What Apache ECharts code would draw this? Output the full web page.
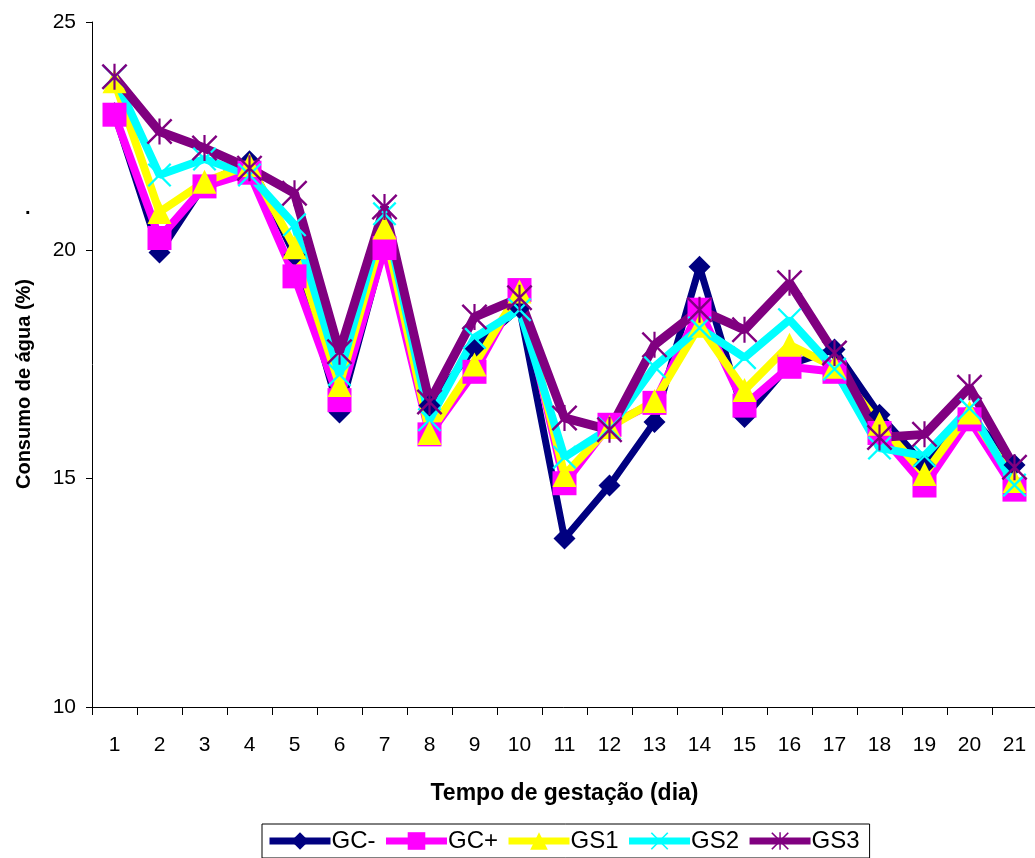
<!DOCTYPE html>
<html>
<head>
<meta charset="utf-8">
<script src="https://cdn.jsdelivr.net/npm/echarts@6/dist/echarts.min.js"></script>
<style>
html,body{margin:0;padding:0;background:#fff;}
#chart{width:1035px;height:858px;}
</style>
</head>
<body>
<div id="chart"></div>
<script>
var days = ['1','2','3','4','5','6','7','8','9','10','11','12','13','14','15','16','17','18','19','20','21'];
var seriesNames = ['GC-','GC+','GS1','GS2','GS3'];
var gcMinus = [23.0, 19.95, 21.45, 21.95, 19.9, 16.45, 20.1, 16.6, 17.87, 18.74, 13.69, 14.85, 16.24, 19.64, 16.35, 17.5, 17.83, 16.4, 15.3, 16.4, 15.3];
var gcPlus  = [22.97, 20.27, 21.4, 21.7, 19.43, 16.72, 20.05, 15.97, 17.34, 19.13, 14.9, 16.18, 16.66, 18.7, 16.6, 17.45, 17.34, 16.0, 14.85, 16.3, 14.76];
var gs1     = [23.7, 20.84, 21.5, 21.87, 20.07, 17.05, 20.5, 16.0, 17.5, 19.1, 15.08, 16.13, 16.7, 18.35, 16.94, 17.93, 17.45, 16.2, 15.1, 16.45, 14.95];
var gs2     = [23.8, 21.65, 22.0, 21.65, 20.56, 17.28, 20.8, 16.29, 18.09, 18.7, 15.47, 16.1, 17.45, 18.3, 17.65, 18.48, 17.4, 15.67, 15.5, 16.54, 14.86];
var gs3     = [23.8, 22.6, 22.24, 21.8, 21.25, 17.78, 20.95, 16.68, 18.54, 18.96, 16.33, 16.07, 17.93, 18.7, 18.26, 19.29, 17.75, 15.9, 15.97, 17.0, 15.25];
var yTicks = [10, 15, 20, 25];
var xTitle = 'Tempo de gestação (dia)';
var yTitle = 'Consumo de água (%)';

var xPath = 'path://M0,1.6 L1.6,0 L24,22.4 L22.4,24 Z M22.4,0 L24,1.6 L1.6,24 L0,22.4 Z';
var starPath = 'path://M0,1.6 L1.6,0 L24,22.4 L22.4,24 Z M22.4,0 L24,1.6 L1.6,24 L0,22.4 Z M11,0 L13,0 L13,24 L11,24 Z';

var font = 'Liberation Sans, Arial, sans-serif';
var chart = echarts.init(document.getElementById('chart'), null, {renderer:'canvas'});

function mk(name, data, color, symbol, size, width) {
  return {
    name: name, type: 'line', data: data,
    symbol: symbol, symbolSize: size, showAllSymbol: true,
    lineStyle: {color: color, width: width},
    itemStyle: {color: color, borderWidth: 0, opacity: 1},
    emphasis: {disabled: true},
    animation: false
  };
}

chart.setOption({
  backgroundColor: '#fff',
  animation: false,
  grid: {left: 92, top: 22, width: 945, bottom: 151, outerBoundsMode: 'none', containLabel: false},
  xAxis: {
    type: 'category', data: days, boundaryGap: true,
    name: xTitle, nameLocation: 'middle', nameGap: 75,
    nameTextStyle: {fontFamily: font, fontSize: 23, fontWeight: 'bold', color: '#000'},
    axisLine: {lineStyle: {color: '#000', width: 1}},
    axisTick: {show: true, interval: 0, length: 8, lineStyle: {color: '#000'}},
    axisLabel: {interval: 0, margin: 28, fontFamily: font, fontSize: 21, color: '#000'},
    splitLine: {show: false}
  },
  yAxis: {
    type: 'value', min: yTicks[0], max: yTicks[yTicks.length-1], interval: 5,
    axisLine: {show: true, lineStyle: {color: '#000', width: 1}},
    axisTick: {show: true, length: 6, lineStyle: {color: '#000'}},
    axisLabel: {margin: 16, fontFamily: font, fontSize: 21, color: '#000'},
    splitLine: {show: false}
  },
  legend: {
    data: seriesNames,
    left: 262, top: 824,
    itemWidth: 61, itemHeight: 22, itemGap: 7,
    padding: [5, 10, 5, 4],
    borderColor: '#000', borderWidth: 1,
    lineStyle: {width: 7},
    textStyle: {fontFamily: font, fontSize: 24, color: '#000', padding: [0,0,0,-4]}
  },
  graphic: [
    {type: 'text', left: 25, top: 198, style: {text: '.', font: 'bold 20px Liberation Sans', fill: '#000'}},
    {type: 'text', x: 24, y: 384, rotation: Math.PI/2,
     style: {text: yTitle, font: 'bold 20px Liberation Sans', fill: '#000', align: 'center', verticalAlign: 'middle'}}
  ],
  series: [
    mk(seriesNames[0], gcMinus, '#000080', 'diamond', 22, 7),
    mk(seriesNames[1], gcPlus, '#FF00FF', 'rect', 24, 8),
    mk(seriesNames[2], gs1, '#FFFF00', 'triangle', 24, 8),
    mk(seriesNames[3], gs2, '#00FFFF', xPath, 24, 8),
    mk(seriesNames[4], gs3, '#800080', starPath, 26, 9)
  ]
});
</script>
</body>
</html>
